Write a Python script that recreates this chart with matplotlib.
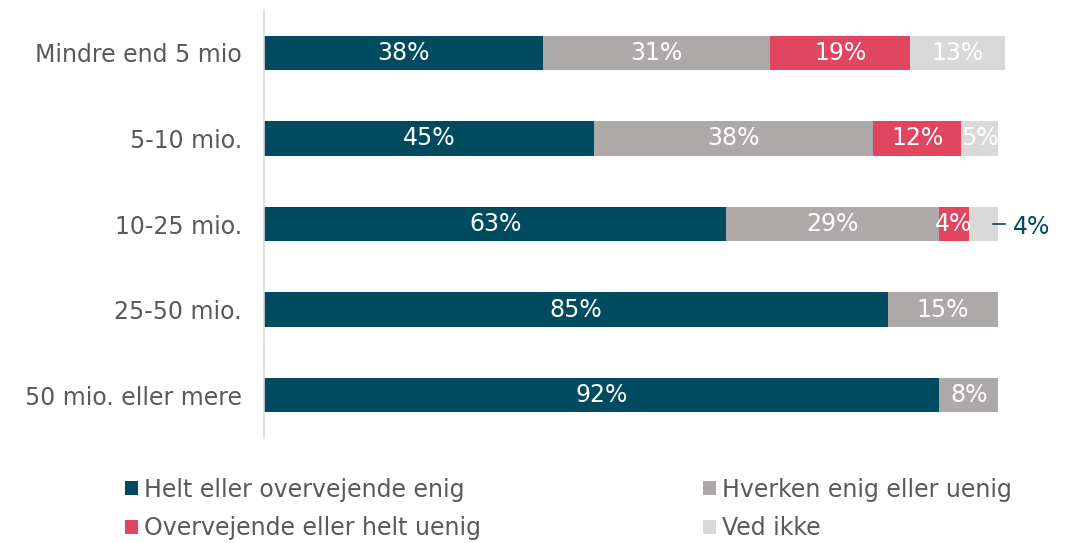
import matplotlib.pyplot as plt
from matplotlib.patches import Patch
import numpy as np

categories = ['Mindre end 5 mio', '5-10 mio.', '10-25 mio.', '25-50 mio.', '50 mio. eller mere']
enig = [38, 45, 63, 85, 92]
hverken = [31, 38, 29, 15, 8]
uenig = [19, 12, 4, 0, 0]
ved_ikke = [13, 5, 4, 0, 0]

series_names = ['Helt eller overvejende enig', 'Hverken enig eller uenig',
                'Overvejende eller helt uenig', 'Ved ikke']
colors = ['#004B5F', '#ADA9A9', '#E0465F', '#D9D9D9']

plt.rcParams['font.family'] = 'DejaVu Sans'
fs = 17

fig = plt.figure(figsize=(10.79, 5.43), dpi=100)
# 100 % spans 734 px; the axes run a bit further so the 101 % row fits
ax = fig.add_axes([264 / 1079, 105 / 543, 734 * 1.1 / 1079, 428 / 543])

y = np.arange(len(categories))
left = np.zeros(len(categories))
for vals, name, col in zip([enig, hverken, uenig, ved_ikke], series_names, colors):
    vals = np.array(vals, dtype=float)
    ax.barh(y, vals, left=left, height=0.4, color=col, label=name)
    for i, v in enumerate(vals):
        if v <= 0:
            continue
        if name == 'Ved ikke' and categories[i] == '10-25 mio.':
            # small segment: label outside with a leader line
            end = left[i] + v
            ax.plot([end - 0.7, end + 1.0], [y[i], y[i]], color='#004B5F', lw=1.2)
            ax.text(end + 2.0, y[i] + 0.04, f'{v:.0f}%', color='#004B5F',
                    fontsize=fs, va='center', ha='left')
        else:
            ax.text(left[i] + v / 2, y[i], f'{v:.0f}%', color='white',
                    fontsize=fs, va='center', ha='center')
    left += vals

ax.set_xlim(0, 110)
ax.set_ylim(4.5, -0.5)
ax.set_yticks(y)
ax.set_yticklabels(categories, fontsize=fs, color='#595959')
ax.tick_params(axis='y', length=0, pad=16)
ax.set_xticks([])
for s in ['top', 'right', 'bottom']:
    ax.spines[s].set_visible(False)
ax.spines['left'].set_color('#D9D9D9')
ax.spines['left'].set_linewidth(1.2)

# legend filled row by row: two entries per row
order = [0, 2, 1, 3]
handles = [Patch(facecolor=colors[k], edgecolor='none') for k in order]
labels = [series_names[k] for k in order]
fig.legend(handles, labels, loc='upper left', bbox_to_anchor=(0.107, 0.138),
           ncol=2, frameon=False, fontsize=fs, labelcolor='#595959',
           handlelength=0.55, handleheight=0.55, handletextpad=0.25,
           columnspacing=9.4, labelspacing=0.62, borderaxespad=0)

fig.savefig('out.png', dpi=100)
